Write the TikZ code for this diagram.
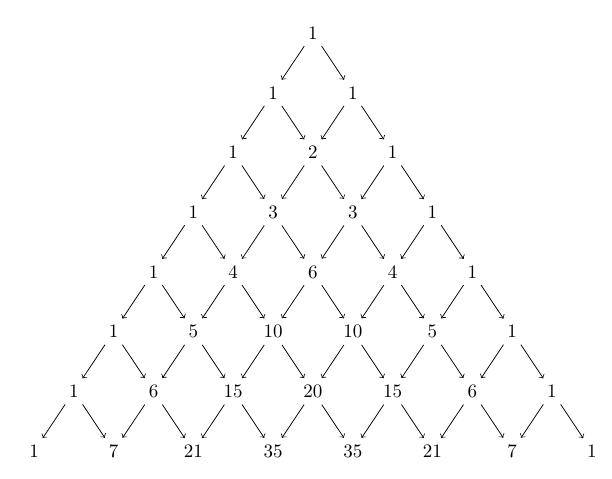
\documentclass[tikz,border=0pt]{standalone}
\begin{document}
\begin{tikzpicture}[x=20.97pt,y=31.43pt,
  num/.style={inner sep=3.33pt},
  link/.style={->}]
\useasboundingbox (-164.7pt,17.4pt) rectangle (157.4pt,-234.2pt);
\foreach \r/\vals in {0/{1},1/{1,1},2/{1,2,1},3/{1,3,3,1},4/{1,4,6,4,1},5/{1,5,10,10,5,1},6/{1,6,15,20,15,6,1},7/{1,7,21,35,35,21,7,1}}{
  \foreach \v [count=\k from 0] in \vals {
    \node[num] (n-\r-\k) at ({2*\k-\r},-\r) {\v};
  }
}
\foreach \r in {0,...,6}{
  \pgfmathtruncatemacro{\nr}{\r+1}
  \foreach \k in {0,...,\r}{
    \pgfmathtruncatemacro{\nk}{\k+1}
    \draw[link] (n-\r-\k) -- (n-\nr-\k);
    \draw[link] (n-\r-\k) -- (n-\nr-\nk);
  }
}
\end{tikzpicture}
\end{document}
